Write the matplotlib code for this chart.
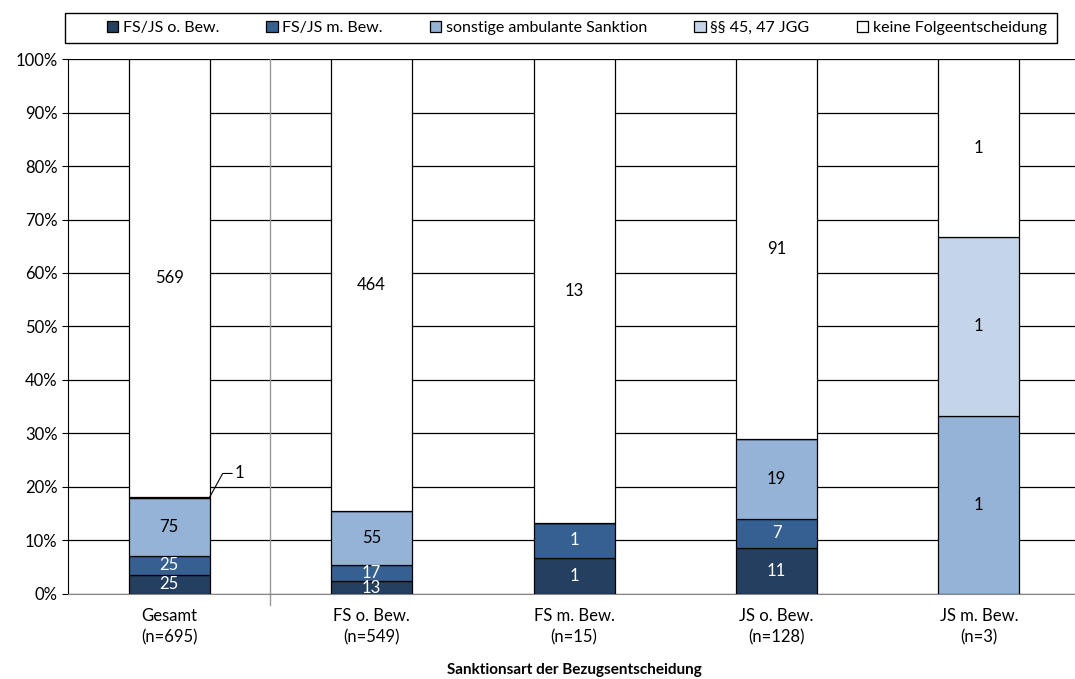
import numpy as np
import matplotlib.pyplot as plt
from matplotlib.patches import Rectangle

plt.rcParams['font.family'] = ['Lato', 'DejaVu Sans']

categories = ["Gesamt\n(n=695)", "FS o. Bew.\n(n=549)", "FS m. Bew.\n(n=15)",
              "JS o. Bew.\n(n=128)", "JS m. Bew.\n(n=3)"]
series = ["FS/JS o. Bew.", "FS/JS m. Bew.", "sonstige ambulante Sanktion",
          "§§ 45, 47 JGG", "keine Folgeentscheidung"]
fsjs_ohne = [25, 13, 1, 11, 0]
fsjs_mit = [25, 17, 1, 7, 0]
sonstige = [75, 55, 0, 19, 1]
par45 = [1, 0, 0, 0, 1]
keine = [569, 464, 13, 91, 1]

colors = ["#243F60", "#366092", "#95B3D7", "#C5D5E9", "#FFFFFF"]
txt_colors = ["white", "white", "black", "black", "black"]

counts = np.array([fsjs_ohne, fsjs_mit, sonstige, par45, keine], dtype=float)
totals = counts.sum(axis=0)
shares = counts / totals * 100

fig = plt.figure(figsize=(10.75, 6.79), dpi=100)
ax = fig.add_axes([0.0633, 0.1252, 0.9414, 0.7879])

x = np.arange(len(categories))
bw = 0.4
bottom = np.zeros(len(categories))
for i, name in enumerate(series):
    ax.bar(x, shares[i], bw, bottom=bottom, color=colors[i], edgecolor="black",
           linewidth=0.9, label=name, zorder=3)
    for j in range(len(categories)):
        if counts[i, j] == 0:
            continue
        if i == 3 and j == 0:
            # tiny segment -> label outside with leader line
            top = bottom[j] + shares[i, j]
            x0 = x[j] + bw / 2
            ax.plot([x0, x0 + 0.064, x0 + 0.11], [top, top + 4.4, top + 4.4],
                    color="black", lw=0.8, zorder=4, clip_on=False)
            ax.text(x0 + 0.125, top + 4.4, "1", fontsize=12, va="center", ha="left")
            continue
        ax.text(x[j], bottom[j] + shares[i, j] / 2, str(int(counts[i, j])),
                ha="center", va="center", fontsize=12, color=txt_colors[i], zorder=4)
    bottom += shares[i]

ax.set_xlim(-0.5, 4.5)
ax.set_ylim(0, 100)
ax.set_yticks(np.arange(0, 101, 10))
ax.set_yticklabels([f"{v}%" for v in range(0, 101, 10)], fontsize=12)
ax.set_xticks(x)
ax.set_xticklabels(categories, fontsize=12, linespacing=1.45)
ax.tick_params(axis="x", length=0, pad=10)
ax.tick_params(axis="y", length=4, direction="out")
ax.yaxis.grid(True, color="black", linewidth=0.9, zorder=0)
ax.set_axisbelow(True)
ax.axvline(0.5, ymin=-0.02, ymax=1, color="#999999", lw=1, clip_on=False, zorder=1)
for s in ["top", "right"]:
    ax.spines[s].set_visible(False)
ax.spines["left"].set_color("black")
ax.spines["bottom"].set_color("#888888")
ax.set_xlabel("Sanktionsart der Bezugsentscheidung", fontsize=11, fontweight="bold", labelpad=12)

# legend box
fig.patches.append(Rectangle((65 / 1075, 1 - 43 / 679), 992 / 1075, 30 / 679,
                             transform=fig.transFigure, facecolor="white",
                             edgecolor="black", lw=1))
leg = fig.legend(loc="center left", bbox_to_anchor=(107 / 1075, 1 - 28 / 679),
                 ncol=5, fontsize=11.5, frameon=False, borderpad=0, borderaxespad=0,
                 handlelength=0.7, handleheight=0.7, handletextpad=0.3, columnspacing=2.95)

fig.savefig("out.png", dpi=100)
